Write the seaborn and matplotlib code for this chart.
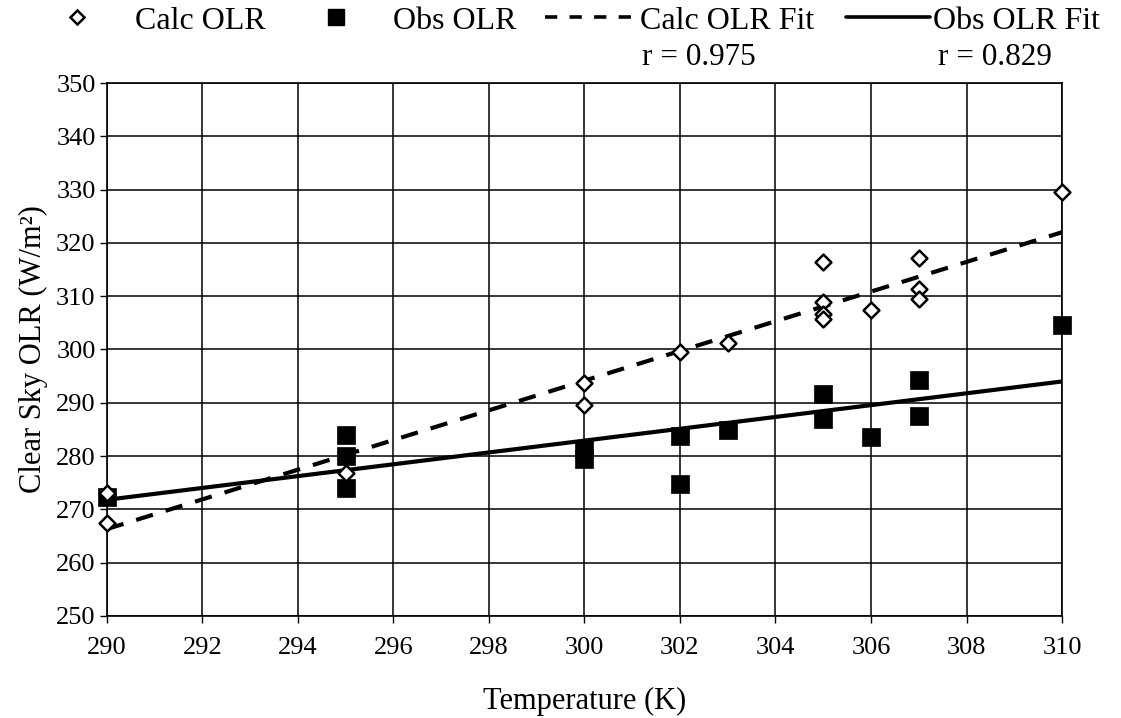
import numpy as np
import pandas as pd
import matplotlib
matplotlib.use("Agg")
import matplotlib.pyplot as plt
import seaborn as sns
from matplotlib.lines import Line2D

# ---- data ----
calc_temp = [290, 290, 295, 300, 300, 302, 303, 305, 305, 305, 305, 306, 307, 307, 307, 310]
calc_olr = [273.0, 267.4, 276.8, 293.8, 289.6, 299.6, 301.2, 316.4, 309.0, 306.6, 305.8, 307.4, 317.2, 311.3, 309.4, 329.6]

obs_temp = [290, 295, 295, 295, 300, 300, 302, 302, 303, 305, 305, 306, 307, 307, 310]
obs_olr = [272.3, 284.0, 280.0, 274.1, 281.3, 279.5, 283.8, 274.8, 284.8, 291.6, 287.0, 283.5, 294.3, 287.5, 304.6]

fit_temp = [290, 310]
calc_fit = [266.3, 322.0]
obs_fit = [271.8, 294.0]

r_labels = ["r = 0.975", "r = 0.829"]
r_pos_x = [302.4, 308.6]

xticks = list(range(290, 311, 2))
yticks = list(range(250, 351, 10))

legend_labels = ["Calc OLR", "Obs OLR", "Calc OLR Fit", "Obs OLR Fit"]

# ---- style ----
sns.set_theme(style="white")
plt.rcParams["font.family"] = ["Liberation Serif", "DejaVu Serif"]
for key in ["text.color", "axes.labelcolor", "xtick.color", "ytick.color", "axes.edgecolor"]:
    plt.rcParams[key] = "black"
plt.rcParams["axes.linewidth"] = 1.2

fig = plt.figure(figsize=(11.21, 7.18), dpi=100)
ax = fig.add_axes([0.0952, 0.1421, 0.8522, 0.7423])

calc_df = pd.DataFrame({"T": calc_temp, "OLR": calc_olr})
obs_df = pd.DataFrame({"T": obs_temp, "OLR": obs_olr})
fit_df = pd.DataFrame({"T": fit_temp, "calc": calc_fit, "obs": obs_fit})

sns.lineplot(data=fit_df, x="T", y="calc", ax=ax, color="black", linewidth=3.0,
             linestyle=(0, (4.2, 3.2)), zorder=3)
sns.lineplot(data=fit_df, x="T", y="obs", ax=ax, color="black", linewidth=3.0, zorder=3)
sns.scatterplot(data=obs_df, x="T", y="OLR", ax=ax, marker="s", s=180, color="black",
                edgecolor="black", linewidth=0.5, zorder=4, clip_on=False)
sns.scatterplot(data=calc_df, x="T", y="OLR", ax=ax, marker="D", s=65, facecolor="white",
                edgecolor="black", linewidth=1.8, zorder=5, clip_on=False)

ax.set_xlim(290, 310)
ax.set_ylim(250, 350)
ax.set_xticks(xticks)
ax.set_yticks(yticks)
ax.grid(True, color="black", linewidth=1.1)
ax.set_axisbelow(True)
ax.tick_params(axis="both", direction="out", length=5, width=1, color="black",
               labelsize=19, bottom=True, left=True)
ax.tick_params(axis="x", pad=10)
ax.tick_params(axis="y", pad=3)
ax.set_xlabel("Temperature (K)", fontsize=22, labelpad=20)
ax.set_ylabel("Clear Sky OLR (W/m²)", fontsize=22, labelpad=6)
for sp in ax.spines.values():
    sp.set_color("black")

for lab, xp in zip(r_labels, r_pos_x):
    ax.text(xp, 352.0, lab, ha="center", va="bottom", fontsize=22.5)

handles = [
    Line2D([], [], marker="D", linestyle="none", markerfacecolor="white",
           markeredgecolor="black", markeredgewidth=1.8, markersize=7.5),
    Line2D([], [], marker="s", linestyle="none", color="black", markersize=11),
    Line2D([], [], color="black", linewidth=2.6, linestyle=(0, (3.4, 3.4))),
    Line2D([], [], color="black", linewidth=2.6),
]
leg_x0 = [57, 316, 545, 846]
leg_len = [1.25, 1.25, 2.76, 2.62]
leg_pad = [1.19, 1.16, 0.22, 0.1]
for h, lab, x0, hl, hp in zip(handles, legend_labels, leg_x0, leg_len, leg_pad):
    fig.legend([h], [lab], loc="center left", bbox_to_anchor=(x0 / 1121, 1 - 21 / 718),
               frameon=False, fontsize=23, handlelength=hl, handletextpad=hp,
               borderpad=0, borderaxespad=0)

fig.savefig("out.png", dpi=100)
